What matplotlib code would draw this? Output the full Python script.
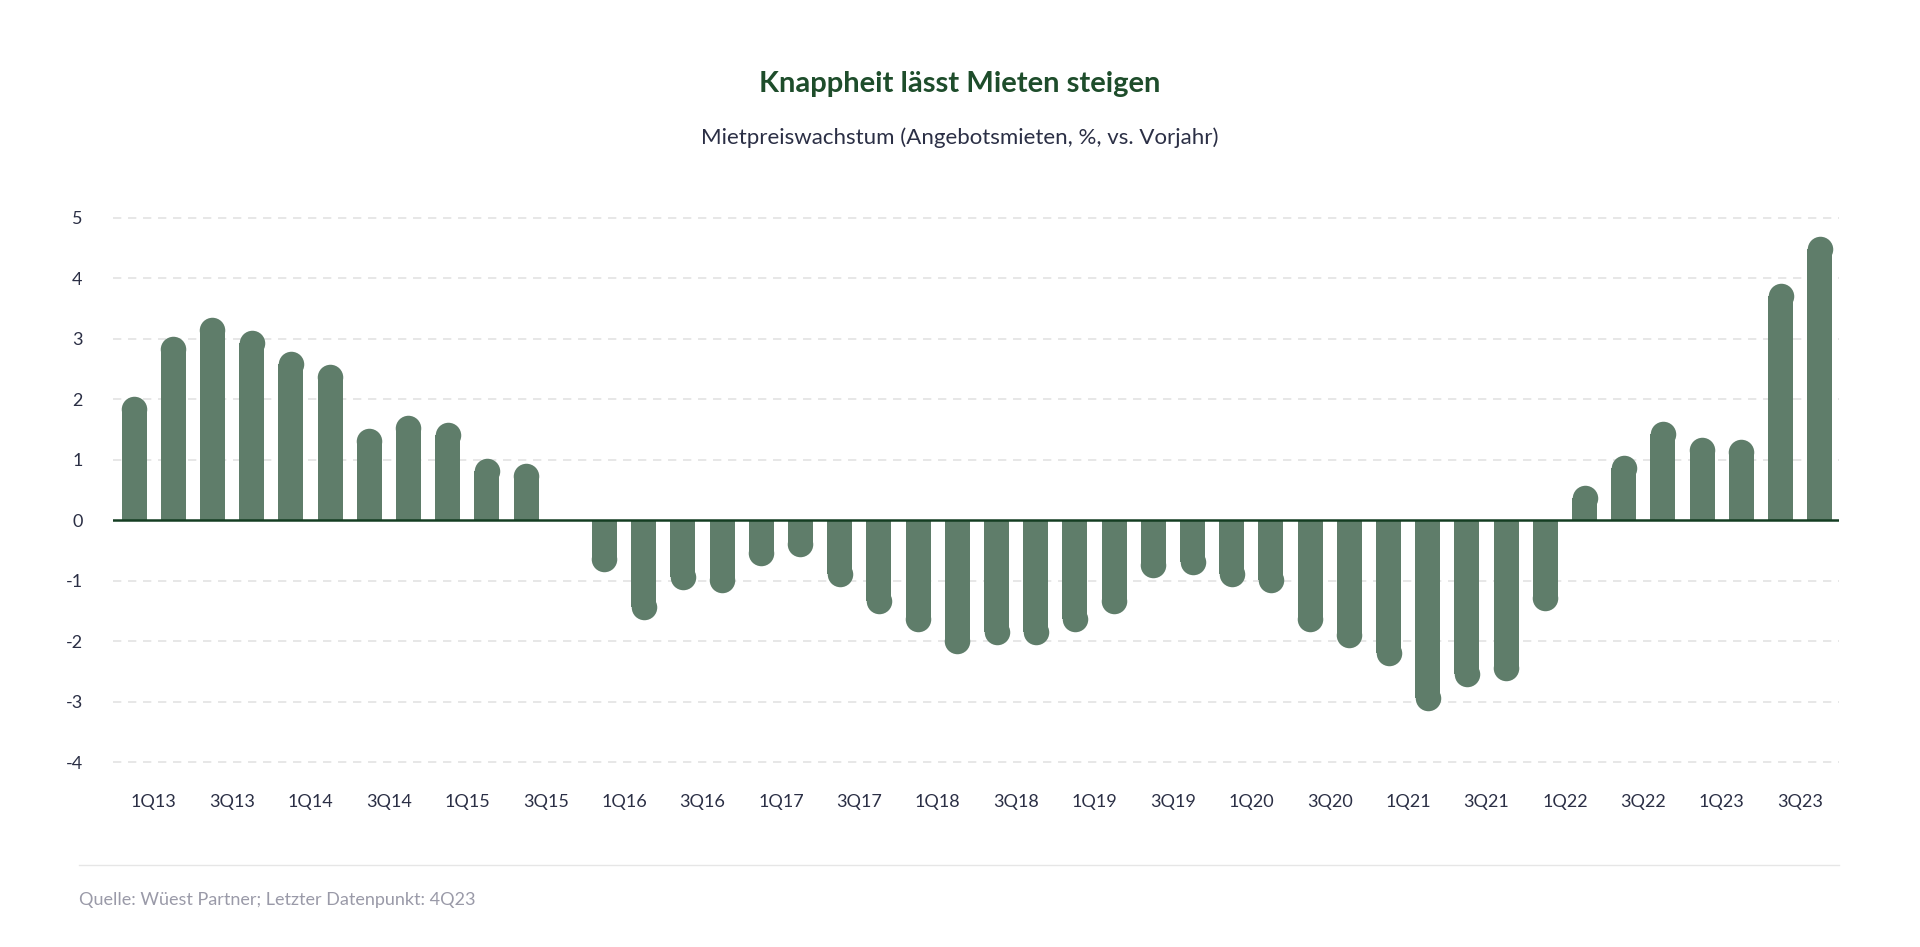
import numpy as np
import matplotlib
matplotlib.use('Agg')
import matplotlib.pyplot as plt

plt.rcParams['font.family'] = ['Lato', 'DejaVu Sans']

# Mietpreiswachstum pro Quartal, 1Q13 - 4Q23 (nan = kein Wert)
werte = [2.05, 3.05, 3.35, 3.15, 2.8, 2.58, 1.52, 1.73, 1.62, 1.02, 0.95, np.nan,
         -0.85, -1.65, -1.15, -1.2, -0.75, -0.6, -1.1, -1.55,
         -1.85, -2.2, -2.05, -2.05, -1.85, -1.55, -0.95, -0.9,
         -1.1, -1.2, -1.85, -2.1, -2.4, -3.15, -2.75, -2.65,
         -1.5, 0.58, 1.07, 1.63, 1.37, 1.34, 3.92, 4.7]
quartale = ['%dQ%02d' % (q, j) for j in range(13, 24) for q in range(1, 5)]

farbe = '#5f7d6a'
fig = plt.figure(figsize=(19.2, 9.47), dpi=100)
ax = fig.add_axes([0.059, 0.176, 0.899, 0.613])

x = np.arange(len(werte))
v = np.array(werte)
r = 0.21  # Radius der runden Enden in Dateneinheiten
ok = ~np.isnan(v)
ende = v - np.sign(v) * r
ax.bar(x[ok], ende[ok], width=0.64, color=farbe, zorder=2)
ax.scatter(x[ok], ende[ok], s=25.5 ** 2 * (72 / 100) ** 2, color=farbe, zorder=2, linewidths=0)

ax.axhline(0, color='#143d22', lw=1.8, zorder=3)
ax.set_xlim(-0.53, 43.5)
ax.set_ylim(-4.3, 5.3)
ax.set_yticks(range(-4, 6))
ax.set_yticklabels([str(i) for i in range(-4, 6)], fontsize=13, color='#2b2f45')
ax.set_xticks(x[::2] + 0.5)
ax.set_xticklabels(quartale[::2], fontsize=13, color='#2b2f45')
ax.tick_params(length=0, pad=10)
ax.tick_params(axis='y', pad=22)
for t in range(-4, 6):
    if t != 0:
        ax.axhline(t, color='#e3e3e3', lw=1.2, ls=(0, (5, 4)), zorder=1)
for s in ax.spines.values():
    s.set_visible(False)

fig.text(0.5, 0.911, 'Knappheit lässt Mieten steigen', ha='center', va='center',
         fontsize=21, fontweight='bold', color='#1e4d2b')
fig.text(0.5, 0.855, 'Mietpreiswachstum (Angebotsmieten, %, vs. Vorjahr)', ha='center',
         va='center', fontsize=16, color='#2b2f45')
fig.add_artist(plt.Line2D([0.041, 0.958], [0.087, 0.087], color='#e6e6e6', lw=1))
fig.text(0.041, 0.05, 'Quelle: Wüest Partner; Letzter Datenpunkt: 4Q23', ha='left',
         va='center', fontsize=13, color='#9a9aa8')

fig.savefig('out.png', dpi=100, facecolor='white')
